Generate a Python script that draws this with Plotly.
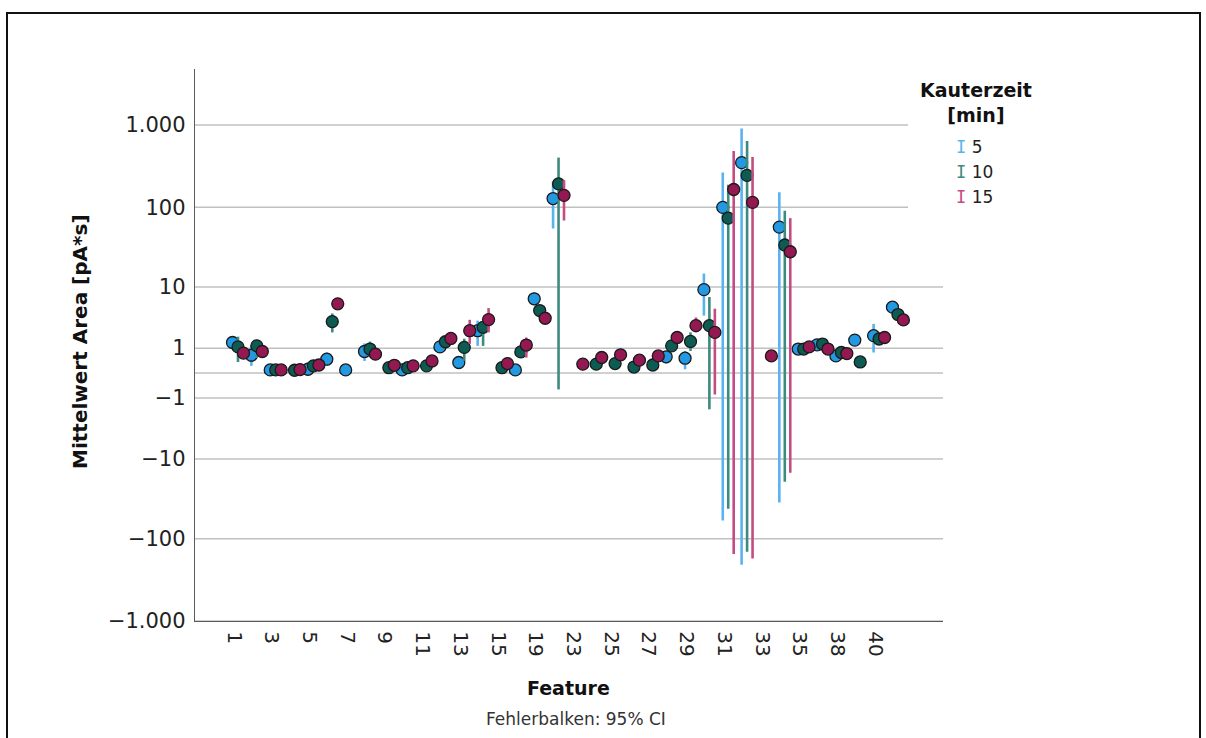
import math
import plotly.graph_objects as go

# ---------------- data ----------------
features = ["1", "2", "3", "4", "5", "6", "7", "8", "9", "10", "11", "12", "13", "14", "15",
            "17", "19", "21", "23", "24", "25", "26", "27", "28", "29", "30", "31", "32",
            "33", "34", "35", "37", "38", "39", "40", "41"]

series_names = ["5", "10", "15"]

blue_mean = [1.34, 0.64, 0.09, None, 0.11, 0.47, 0.09, 0.82, None, 0.09, None, 1.07, 0.34, 2.25, None,
             0.09, 6.9, 128, None, None, None, None, None, 0.57, 0.51, 9.2, 100, 350, None, 57.2,
             0.95, 1.19, 0.61, 1.5, 1.83, 5.26]
blue_lo = [1.15, 0.22, None, None, -0.08, 0.22, None, 0.40, None, None, None, None, None, 1.13, None,
           None, 5.6, 55, None, None, None, None, None, 0.3, 0.11, 3.95, -59.8, -208, None, -36,
           None, None, None, None, 0.77, 4.5]
blue_hi = [1.55, 1.13, None, None, 0.34, 0.77, None, 1.28, None, None, None, None, None, 3.3, None,
           None, 8.5, 208, None, None, None, None, None, 0.85, 0.85, 15, 265, 910, None, 153,
           None, None, None, None, 2.93, 6.2]

teal_mean = [1.07, 1.13, 0.09, 0.08, 0.22, 3.19, None, 0.95, 0.16, 0.16, 0.22, 1.39, 1.04, 2.57, 0.16,
             0.80, 4.7, 193, None, 0.28, 0.30, 0.18, 0.25, 1.13, 1.41, 2.74, 73.8, 245, None, 34.4,
             0.95, 1.24, 0.77, 0.36, 1.58, 4.1]
teal_lo = [0.36, 0.52, None, None, None, 2.1, None, 0.55, None, None, None, None, 0.4, 1.13, None,
           None, None, -0.58, None, None, None, 0.05, None, None, 0.85, -1.75, -42.9, -144, None, -19.7,
           None, None, 0.55, None, None, None]
teal_hi = [1.75, 1.45, None, None, None, 4.25, None, 1.4, None, None, None, None, 1.6, 2.93, None,
           None, None, 403, None, None, None, 0.35, None, None, 2.1, 7.3, 189, 640, None, 91,
           None, None, 1.0, None, None, None]

crim_mean = [0.74, 0.82, 0.09, 0.10, 0.25, 5.87, None, 0.69, 0.24, 0.22, 0.40, 1.62, 2.25, 3.43, 0.30,
             1.18, 3.6, 140, 0.28, 0.54, 0.66, 0.43, 0.61, 1.69, 2.74, 2.1, 165, 115, 0.61, 28.3,
             1.07, 0.95, 0.72, None, 1.69, 3.39]
crim_lo = [None, None, None, None, None, None, None, None, None, None, None, None, 1.26, 2.1, None,
           0.54, None, 69, None, None, 0.45, None, None, None, 2.1, -0.82, -154, -174, None, -15.1,
           None, None, None, None, None, None]
crim_hi = [None, None, None, None, None, None, None, None, None, None, None, None, 3.4, 5.1, None,
           1.69, None, 214, None, None, 0.9, None, None, None, 3.7, 5.0, 485, 409, None, 73.8,
           None, None, None, None, None, None]

y_tick_values = [1000, 100, 10, 1, -1, -10, -100, -1000]
y_tick_labels = ["1.000", "100", "10", "1", "\u22121", "\u221210", "\u2212100", "\u22121.000"]

# ---------------- helpers ----------------
def T(v):
    """SPSS-like safe log scale: sign(v) * log10(1 + |v|)"""
    if v is None:
        return None
    return math.copysign(math.log10(1 + abs(v)), v) if v != 0 else 0.0

marker_colors = ["#2399e3", "#0d5c53", "#941852"]
err_colors = ["#5ab2ee", "#3c8a80", "#c34c82"]
offsets = [-0.08, 0.21, 0.50]

W, H = 1206, 738
ml, mr, mt, mb = 195, 263, 69, 117
pw, ph = W - ml - mr, H - mt - mb

def px_x(p):
    return (p - ml) / pw

def px_y(p):
    return (H - mb - p) / ph

fig = go.Figure()

all_series = [(blue_mean, blue_lo, blue_hi), (teal_mean, teal_lo, teal_hi), (crim_mean, crim_lo, crim_hi)]
for s, (mean, lo, hi) in enumerate(all_series):
    xs, ys, ep, em = [], [], [], []
    for i, m in enumerate(mean):
        if m is None:
            continue
        xs.append(i + offsets[s])
        ty = T(m)
        ys.append(ty)
        ep.append(T(hi[i]) - ty if hi[i] is not None else 0)
        em.append(ty - T(lo[i]) if lo[i] is not None else 0)
    fig.add_trace(go.Scatter(
        x=xs, y=ys, mode="markers", showlegend=False,
        marker=dict(size=12, color=marker_colors[s], line=dict(color="#1a1a1a", width=1.3)),
        error_y=dict(type="data", symmetric=False, array=ep, arrayminus=em,
                     color=err_colors[s], thickness=2.6, width=0),
        hoverinfo="skip",
    ))

# legend entries: an I-beam glyph (error-bar symbol) in the series colour, then the label
for s, name in enumerate(series_names):
    fig.add_trace(go.Scatter(
        x=[None], y=[None], mode="markers",
        name=(f"<span style=\"font-family:'DejaVu Sans Mono';color:{err_colors[s]}\">I</span> {name}"),
        marker=dict(size=1, color="rgba(0,0,0,0)", line=dict(width=0)),
    ))

# gridlines as shapes
shapes = []
for v in y_tick_values + [0]:
    x1 = px_x(908) if v >= 100 else 1
    shapes.append(dict(type="line", xref="paper", yref="y", x0=0, x1=x1, y0=T(v), y1=T(v),
                       line=dict(color="#c0c0c0", width=1.5), layer="below"))
# outer frame
shapes.append(dict(type="rect", xref="paper", yref="paper",
                   x0=px_x(7), x1=px_x(1200), y0=px_y(760), y1=px_y(13),
                   line=dict(color="#111111", width=2), fillcolor="rgba(0,0,0,0)"))

FONT = "DejaVu Sans"
y_top = (373 - 69) / 82.65

fig.update_layout(
    width=W, height=H,
    margin=dict(l=ml, r=mr, t=mt, b=mb, pad=0),
    paper_bgcolor="white", plot_bgcolor="white",
    font=dict(family=FONT, color="#222222", size=19),
    shapes=shapes,
    showlegend=True,
    legend=dict(
        x=px_x(916), y=px_y(129), xanchor="left", yanchor="top",
        font=dict(family=FONT, size=17, color="#222222"),
        itemwidth=30, bgcolor="rgba(0,0,0,0)", tracegroupgap=0,
    ),
    xaxis=dict(
        range=[-2.07, 37.6], tickmode="array",
        tickvals=list(range(0, len(features), 2)), ticktext=features[::2],
        tickangle=90, showgrid=False, zeroline=False,
        showline=True, linecolor="#5a5a5a", linewidth=1.4,
        ticks="", ticklabelstandoff=5,
        tickfont=dict(family=FONT, size=20, color="#222222"),
    ),
    yaxis=dict(
        range=[T(-1000), y_top], tickmode="array",
        tickvals=[T(v) for v in y_tick_values], ticktext=y_tick_labels,
        showgrid=False, zeroline=False,
        showline=True, linecolor="#5a5a5a", linewidth=1.4,
        ticks="", ticklabelstandoff=4,
        tickfont=dict(family=FONT, size=21, color="#222222"),
    ),
    annotations=[
        dict(text="<b>Kauterzeit<br>[min]</b>", xref="paper", yref="paper", x=px_x(976), y=px_y(77),
             showarrow=False, xanchor="center", yanchor="top", align="center",
             font=dict(family=FONT, size=19, color="#111111")),
        dict(text="<b>Feature</b>", xref="paper", yref="paper", x=px_x(568), y=px_y(688),
             showarrow=False, xanchor="center", yanchor="middle",
             font=dict(family=FONT, size=19, color="#111111")),
        dict(text="Fehlerbalken: 95% CI", xref="paper", yref="paper", x=px_x(576), y=px_y(719),
             showarrow=False, xanchor="center", yanchor="middle",
             font=dict(family=FONT, size=17, color="#333333")),
        dict(text="<b>Mittelwert Area [pA*s]</b>", xref="paper", yref="paper", x=px_x(80), y=px_y(342),
             showarrow=False, xanchor="center", yanchor="middle", textangle=-90,
             font=dict(family=FONT, size=20, color="#111111")),
    ],
)

fig.write_html("out.html")
